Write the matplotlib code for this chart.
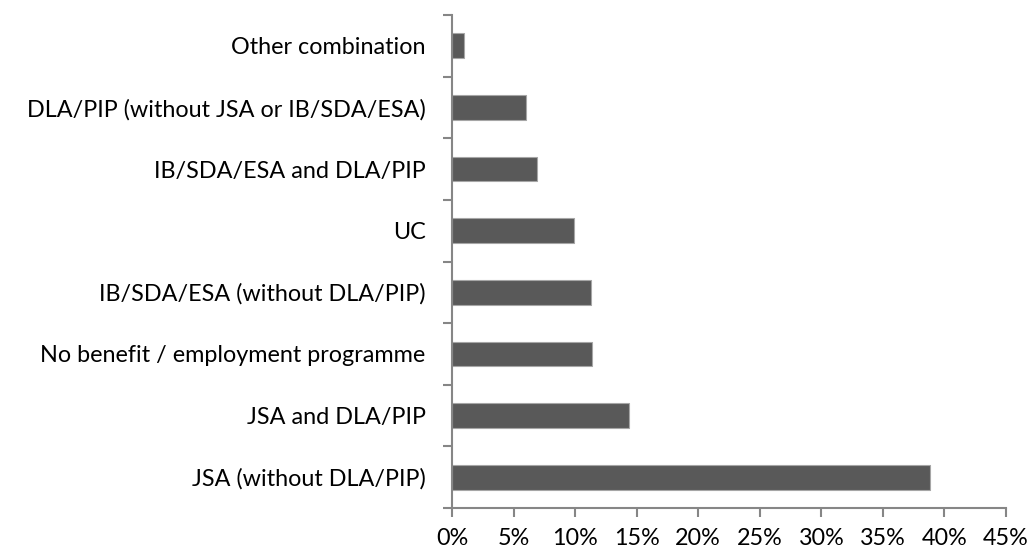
import matplotlib
matplotlib.use("Agg")
import matplotlib.pyplot as plt
from matplotlib.ticker import FuncFormatter, MultipleLocator

categories = [
    "JSA (without DLA/PIP)",
    "JSA and DLA/PIP",
    "No benefit / employment programme",
    "IB/SDA/ESA (without DLA/PIP)",
    "UC",
    "IB/SDA/ESA and DLA/PIP",
    "DLA/PIP (without JSA or IB/SDA/ESA)",
    "Other combination",
]
values = [38.8, 14.4, 11.4, 11.3, 9.9, 6.9, 6.0, 1.0]

plt.rcParams['font.family'] = ['Lato', 'DejaVu Sans']

fig = plt.figure(figsize=(10.30, 5.53), dpi=100)
ax = fig.add_axes([452/1030, 1 - 508/553, (1006 - 452)/1030, (508 - 15)/553])

y = list(range(len(categories)))
ax.barh(y, values, height=0.4, color="#595959", edgecolor="#a6a6a6", linewidth=0.8)

ax.set_xlim(0, 45)
ax.set_ylim(-0.5, len(categories) - 0.5)
ax.xaxis.set_major_locator(MultipleLocator(5))
ax.xaxis.set_major_formatter(FuncFormatter(lambda v, p: f"{int(round(v))}%"))

ax.set_yticks(y)
ax.set_yticklabels(categories)
ax.set_yticks([i - 0.5 for i in range(len(categories) + 1)], minor=True)
ax.tick_params(axis='y', which='major', length=0, pad=19, labelsize=16.8)
ax.tick_params(axis='y', which='minor', length=6.3, width=1.5, color="#868686")
ax.tick_params(axis='x', which='major', length=6.3, width=1.5, color="#868686", labelsize=16.8, pad=8)

for s in ['top', 'right']:
    ax.spines[s].set_visible(False)
for s in ['left', 'bottom']:
    ax.spines[s].set_color("#868686")
    ax.spines[s].set_linewidth(1.5)

fig.savefig("out.png", dpi=100)
